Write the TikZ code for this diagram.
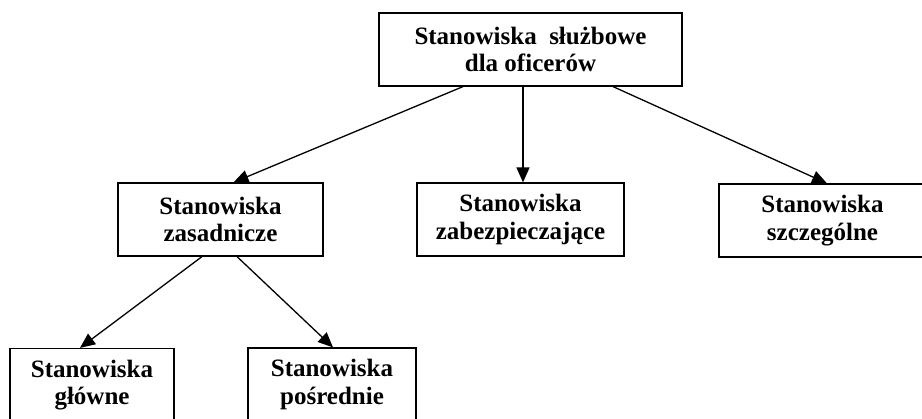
\documentclass[tikz,border=0pt]{standalone}
\usepackage{fontspec}
\setmainfont{Liberation Serif}
\usetikzlibrary{arrows.meta}
\begin{document}
\begin{tikzpicture}[x=1pt,y=-1pt,
  posbox/.style={draw, line width=1.2pt, rectangle, inner sep=0pt,
    minimum height=73pt, align=center,
    font=\fontsize{25}{27.5}\selectfont\bfseries},
  link/.style={line width=1.3pt, -{Triangle[length=15pt,width=13pt]}}]
  % page frame
  \clip (0,0) rectangle (922,419);
  \fill[white] (0,0) rectangle (922,419);

  % positions
  \node[posbox, minimum width=303pt] (top) at (530.5,49.5)
    {Stanowiska\ \ służbowe\\dla oficerów};
  \node[posbox, minimum width=205pt] (zas) at (220.5,219.5)
    {Stanowiska\\zasadnicze};
  \node[posbox, minimum width=207pt] (zab) at (520.5,219.5)
    {Stanowiska\\zabezpieczające};
  \node[posbox, minimum width=207pt] (szc) at (822.5,220.5)
    {Stanowiska\\szczególne};
  \node[posbox, minimum width=164pt] (glo) at (92,385)
    {Stanowiska\\główne};
  \node[posbox, minimum width=168pt] (pos) at (332,384.5)
    {Stanowiska\\pośrednie};

  % connectors
  \draw[link] ([xshift=-67.5pt]top.south) -- ([xshift=13pt]zas.north);
  \draw[link] ([xshift=2.5pt]zab.north |- top.south) -- ([xshift=2.5pt]zab.north);
  \draw[link] ([xshift=82.5pt]top.south) -- ([xshift=4.5pt]szc.north);
  \draw[link] ([xshift=-18.5pt]zas.south) -- ([xshift=-12pt]glo.north);
  \draw[link] ([xshift=16.5pt]zas.south) -- ([xshift=1pt]pos.north);
\end{tikzpicture}
\end{document}
